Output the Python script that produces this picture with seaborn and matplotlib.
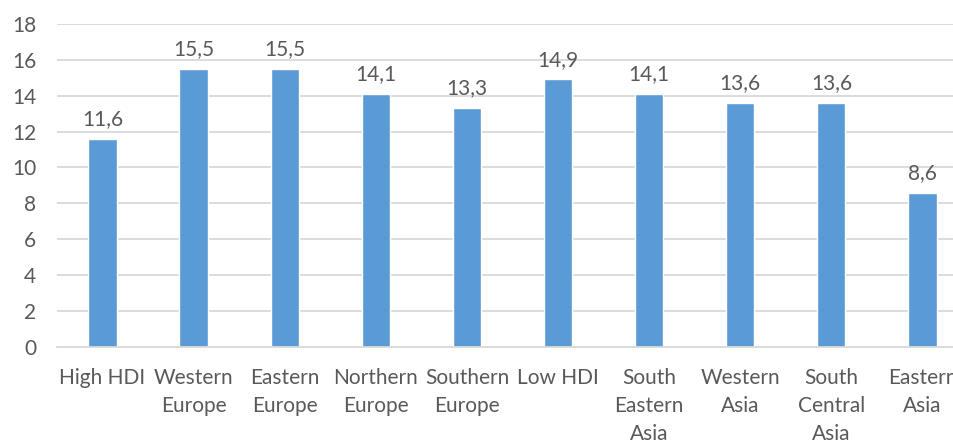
import matplotlib

matplotlib.use("Agg")
import matplotlib.pyplot as plt
import pandas as pd
import seaborn as sns

CATEGORIES = [
    "High HDI",
    "Western\nEurope",
    "Eastern\nEurope",
    "Northern\nEurope",
    "Southern\nEurope",
    "Low HDI",
    "South\nEastern\nAsia",
    "Western\nAsia",
    "South\nCentral\nAsia",
    "Eastern\nAsia",
]
VALUES = [11.6, 15.5, 15.5, 14.1, 13.3, 14.9, 14.1, 13.6, 13.6, 8.6]
Y_TICKS = [0, 2, 4, 6, 8, 10, 12, 14, 16, 18]

BAR_COLOR = "#5B9BD5"
TEXT_COLOR = "#595959"
GRID_COLOR = "#D9D9D9"
FONT_SIZE = 15

sns.set_style("white")
plt.rcParams["font.family"] = ["Lato", "DejaVu Sans"]

df = pd.DataFrame({"category": CATEGORIES, "value": VALUES})

fig = plt.figure(figsize=(9.54, 4.41), dpi=100)
ax = fig.add_axes([0.0597, 0.213, 0.955, 0.733])

sns.barplot(data=df, x="category", y="value", color=BAR_COLOR, width=0.31,
            saturation=1, ax=ax)

ax.set_ylim(0, 18)
ax.set_yticks(Y_TICKS)
ax.set_xlim(-0.5, len(CATEGORIES) - 0.5)
ax.yaxis.grid(True, color=GRID_COLOR, linewidth=1.3)
ax.set_axisbelow(True)
for side in ("top", "right", "left"):
    ax.spines[side].set_visible(False)
ax.spines["bottom"].set_color(GRID_COLOR)
ax.spines["bottom"].set_linewidth(1.3)

ax.tick_params(axis="both", length=0, labelsize=FONT_SIZE, colors=TEXT_COLOR)
ax.tick_params(axis="x", pad=15)
ax.tick_params(axis="y", pad=15)
for lbl in ax.get_xticklabels():
    lbl.set_linespacing(1.5)
    lbl.set_verticalalignment("top")
ax.set_xlabel("")
ax.set_ylabel("")

ax.bar_label(ax.containers[0],
             labels=[f"{v:.1f}".replace(".", ",") for v in VALUES],
             padding=7, fontsize=FONT_SIZE, color=TEXT_COLOR)

fig.savefig("out.png", dpi=100)
plt.close(fig)
